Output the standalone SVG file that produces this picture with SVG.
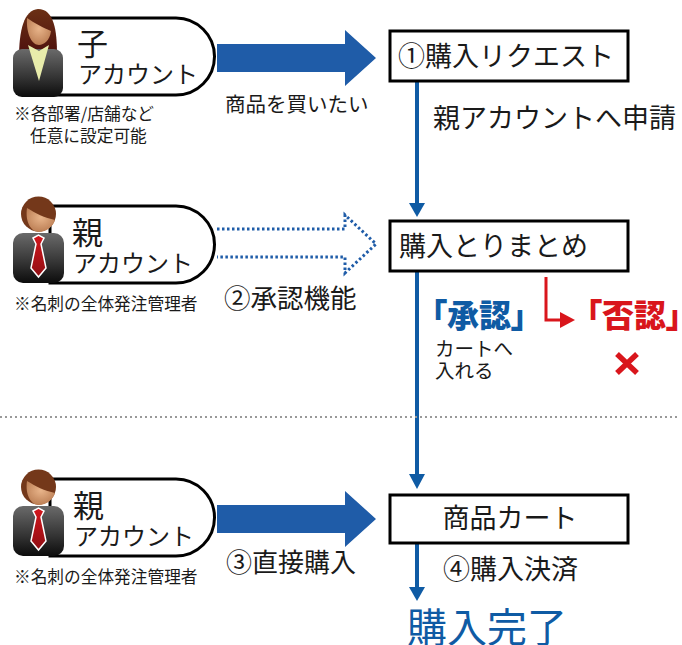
<svg xmlns="http://www.w3.org/2000/svg" width="682" height="645" viewBox="0 0 682 645">
<style>
text{font-family:"Noto Sans CJK JP","Noto Sans",sans-serif;fill:#1a1a1a}
.pill{fill:#fff;stroke:#000;stroke-width:3}
.box{fill:#fff;stroke:#000;stroke-width:3}
.blue{fill:#1f5ca8}
.vline{stroke:#0f5ba4;stroke-width:4;fill:none}
.dot{fill:none;stroke:#1f5ca8;stroke-width:3;stroke-dasharray:2.5 2.5}
.note{font-size:16.7px}
.acc{font-size:24px}
.kanji{font-size:31px}
.box-t{font-size:27px}
.mark{font-size:32px;font-weight:900;font-feature-settings:"palt"}
.small{font-size:19.5px}
</style>
<defs>
<linearGradient id="suit" x1="0" y1="0" x2="0" y2="1"><stop offset="0" stop-color="#6a6a6a"/><stop offset="0.6" stop-color="#333"/><stop offset="1" stop-color="#0c0c0c"/></linearGradient>
<radialGradient id="skin" cx="0.5" cy="0.4" r="0.65"><stop offset="0" stop-color="#e8b48a"/><stop offset="1" stop-color="#b87a50"/></radialGradient>
<linearGradient id="hairF" x1="0" y1="0" x2="0" y2="1"><stop offset="0" stop-color="#6b3015"/><stop offset="1" stop-color="#4a0d0d"/></linearGradient>
<linearGradient id="tie" x1="0" y1="0" x2="0" y2="1"><stop offset="0" stop-color="#d4161c"/><stop offset="1" stop-color="#8f0f14"/></linearGradient>
<g id="man">
<rect x="0" y="31" width="51" height="50" rx="10" fill="url(#suit)"/>
<circle cx="25.5" cy="12" r="17.5" fill="#74381a"/>
<path d="M14 6C22 11 32 16 42 18C40 25 33 30 26 30C18 30 12 20 14 6Z" fill="url(#skin)"/>
<path d="M20 36L25.5 33L31 36L28 42L33 66L25.5 75L18 66L23 42Z" fill="url(#tie)" stroke="#fff" stroke-width="1.5"/>
</g>
</defs>
<g id="connectors">
<path class="blue" d="M217 44H345V30L376 58L345 86V72H217Z"/>
<path class="dot" d="M217 229H345V215L376 244L345 273V257H217"/>
<path class="blue" d="M217 505H345V491L376 519L345 547V533H217Z"/>
<path class="vline" d="M417 81V204"/>
<path fill="#0f5ba4" d="M409 203H425L417 217Z"/>
<path class="vline" d="M417 271V476"/>
<path fill="#0f5ba4" d="M409 474H425L417 489Z"/>
<path class="vline" d="M417 543V590"/>
<path fill="#0f5ba4" d="M409 587H425L417 601Z"/>
<path d="M546 277V320H565" fill="none" stroke="#d9161c" stroke-width="3"/>
<path fill="#d9161c" d="M560 312L575 320L560 328Z"/>
<path d="M0 417H680" stroke="#999" stroke-width="2" stroke-dasharray="2 3" fill="none"/>
</g>
<g id="child">
<path class="pill" d="M50 18H176A38.500 38.500 0 0 1 176 95H50Z"/>
<path d="M19 58C19 30 24 10 38 9C54 9 57 30 57 55L50 60H24Z" fill="url(#hairF)"/>
<path d="M27 18C34 23 44 28 51 31C50 40 44 45 39 45C32 45 26 34 27 18Z" fill="url(#skin)"/>
<rect x="13" y="49" width="50" height="48" rx="9" fill="url(#suit)"/>
<path d="M28 45L39 51L49 45L39 81Z" fill="#e8ecab"/>
<text class="kanji" x="77" y="55">子</text>
<text class="acc" x="78" y="83">アカウント</text>
<text class="note" x="14" y="120">※各部署/店舗など</text>
<text class="note" x="30" y="142">任意に設定可能</text>
</g>
<g id="parent1">
<path class="pill" d="M50 206H176A38.500 38.500 0 0 1 176 283H50Z"/>
<use href="#man" x="13" y="202"/>
<text class="kanji" x="72" y="244">親</text>
<text class="acc" x="73" y="272">アカウント</text>
<text class="note" x="14" y="310">※名刺の全体発注管理者</text>
</g>
<g id="parent2">
<path class="pill" d="M50 479H176A38.500 38.500 0 0 1 176 556H50Z"/>
<use href="#man" x="13" y="475"/>
<text class="kanji" x="73" y="517">親</text>
<text class="acc" x="74" y="545">アカウント</text>
<text class="note" x="14" y="583">※名刺の全体発注管理者</text>
</g>
<g id="box1">
<rect class="box" x="390" y="31" width="238" height="50"/>
<text class="box-t" x="398" y="66">①購入リクエスト</text>
</g>
<g id="box2">
<rect class="box" x="390" y="221" width="238" height="50"/>
<text class="box-t" x="399" y="256">購入とりまとめ</text>
</g>
<g id="box3">
<rect class="box" x="390" y="495" width="238" height="48"/>
<text class="box-t" x="510" y="528" text-anchor="middle">商品カート</text>
</g>
<g id="labels">
<text x="225" y="112" font-size="20.500">商品を買いたい</text>
<text x="433" y="128" font-size="27">親アカウントへ申請</text>
<text x="224" y="308" font-size="26.500">②承認機能</text>
<text x="226" y="572" font-size="26">③直接購入</text>
<text x="443" y="579" font-size="27">④購入決済</text>
<text class="mark" x="431" y="327" style="fill:#0f5ba4">「承認」</text>
<text class="mark" x="586" y="327" style="fill:#d9161c">「否認」</text>
<text class="small" x="435" y="356">カートへ</text>
<text class="small" x="435" y="378">入れる</text>
<text x="407" y="642" font-size="40" style="fill:#0f5ba4">購入完了</text>
<path d="M617 354L637 373M637 354L617 373" stroke="#d9161c" stroke-width="5.500" fill="none"/>
</g>
</svg>
